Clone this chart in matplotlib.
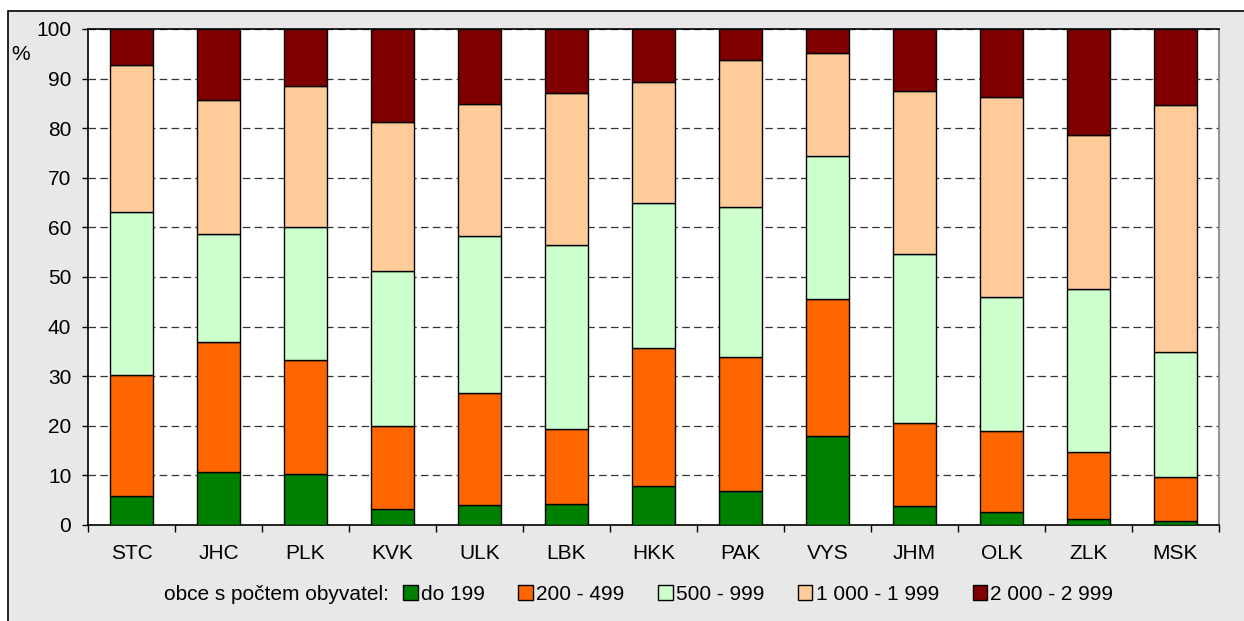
import matplotlib
matplotlib.use("Agg")
import matplotlib.pyplot as plt
import matplotlib.patches as mpatches
import numpy as np

plt.rcParams['font.family'] = ['Liberation Sans', 'DejaVu Sans']

# Kraje a podíly obcí podle velikostních skupin (%)
regions = ["STC", "JHC", "PLK", "KVK", "ULK", "LBK", "HKK", "PAK", "VYS", "JHM", "OLK", "ZLK", "MSK"]
group_labels = ["do 199", "200 - 499", "500 - 999", "1 000 - 1 999", "2 000 - 2 999"]
do_199 = [5.8, 10.7, 10.2, 3.2, 4.0, 4.3, 7.9, 6.8, 17.9, 3.9, 2.7, 1.2, 0.8]
s200_499 = [24.4, 26.1, 23.1, 16.8, 22.6, 15.1, 27.7, 27.0, 27.7, 16.7, 16.3, 13.5, 8.8]
s500_999 = [32.9, 21.9, 26.7, 31.2, 31.7, 37.0, 29.4, 30.4, 28.8, 34.0, 27.0, 32.8, 25.2]
s1000_1999 = [29.7, 27.0, 28.6, 30.1, 26.6, 30.7, 24.3, 29.6, 20.8, 32.8, 40.2, 31.2, 49.9]
s2000_2999 = [7.2, 14.3, 11.4, 18.7, 15.1, 12.9, 10.7, 6.2, 4.8, 12.6, 13.8, 21.3, 15.3]

colors = ["#008000", "#FF6600", "#CCFFCC", "#FFCC99", "#800000"]
series = [do_199, s200_499, s500_999, s1000_1999, s2000_2999]

fig = plt.figure(figsize=(12.44, 6.21), dpi=100)
fig.patch.set_facecolor("white")

# gray chart area with border on top and left
bg = mpatches.Rectangle((8 / 1244, -0.1), 1.2, 1 - 11 / 621 + 0.1, transform=fig.transFigure,
                        facecolor="#E8E8E8", edgecolor="black", linewidth=1.2, zorder=-5)
fig.patches.append(bg)

ax = fig.add_axes([88 / 1244, 1 - 525 / 621, (1219 - 88) / 1244, (525 - 29) / 621])
ax.set_facecolor("white")

x = np.arange(len(regions))
bottom = np.zeros(len(regions))
handles = []
for vals, col, lab in zip(series, colors, group_labels):
    vals = np.array(vals)
    b = ax.bar(x, vals, width=0.5, bottom=bottom, color=col, edgecolor="black", linewidth=1.0,
               label=lab, zorder=3)
    handles.append(b)
    bottom += vals

ax.set_xlim(-0.5, len(regions) - 0.5)
ax.set_ylim(0, 100)
ax.set_yticks(np.arange(0, 101, 10))
ax.yaxis.grid(True, color="#333333", linestyle=(0, (6, 3.5)), linewidth=0.9, zorder=1)
ax.set_axisbelow(True)

# category ticks between bars, labels at centers
ax.set_xticks(np.arange(-0.5, len(regions), 1.0))
ax.set_xticklabels([])
ax.set_xticks(x, minor=True)
ax.set_xticklabels(regions, minor=True, fontsize=15)
ax.tick_params(axis="x", which="major", direction="out", length=5, width=1)
ax.tick_params(axis="x", which="minor", length=0, pad=14)
ax.tick_params(axis="y", direction="out", length=4, width=1, labelsize=15, pad=8)

for s in ["left", "bottom", "top"]:
    ax.spines[s].set_color("black")
    ax.spines[s].set_linewidth(1.2)
ax.spines["right"].set_color("#808080")
ax.spines["right"].set_linewidth(1.2)

fig.text(21 / 1244, 1 - 55 / 621, "%", fontsize=15, ha="center", va="center")

fig.text(389 / 1244, 1 - 594 / 621, "obce s počtem obyvatel:", fontsize=15, ha="right", va="center")
fig.legend(handles=handles, labels=group_labels, loc="center left",
           bbox_to_anchor=(403 / 1244, 1 - 594 / 621), ncol=5, frameon=False,
           fontsize=15, handlelength=0.7, handleheight=0.7, handletextpad=0.15,
           columnspacing=1.62, borderpad=0, borderaxespad=0)

fig.savefig("out.png", dpi=100, facecolor=fig.get_facecolor())
